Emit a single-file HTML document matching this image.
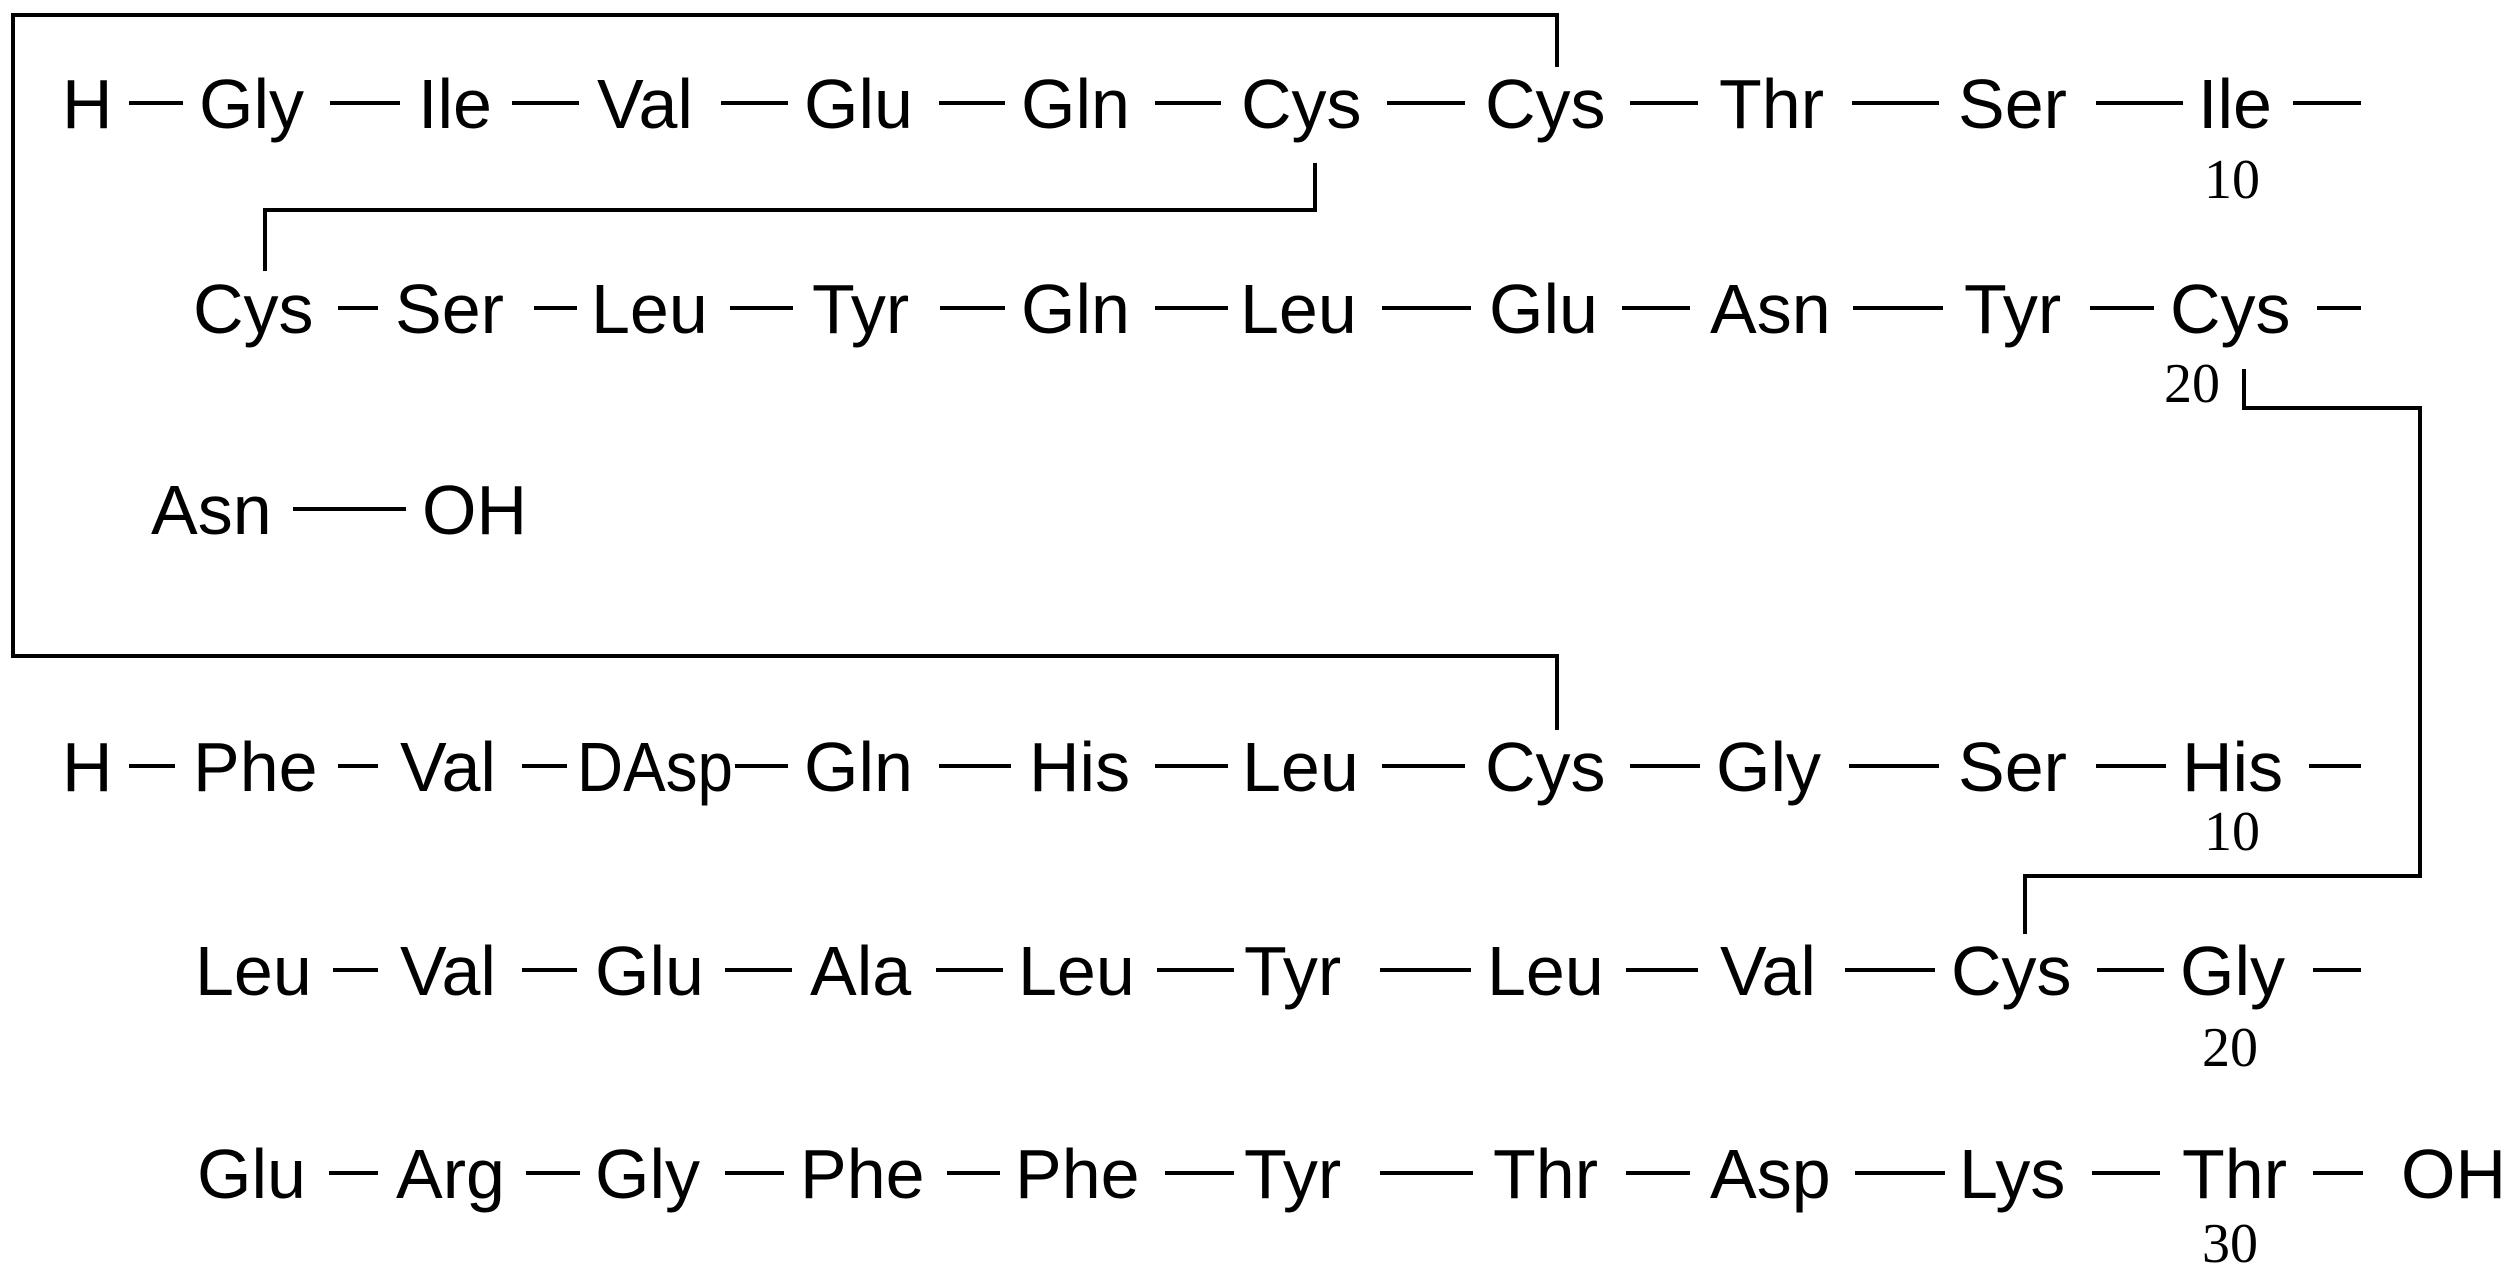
<!DOCTYPE html>
<html><head><meta charset="utf-8"><style>
html,body{margin:0;padding:0;background:#fff;}
svg{display:block;}
text{font-family:"Liberation Sans",Arial,sans-serif;font-size:70px;fill:#000;}
text.n{font-family:"Liberation Serif","Times New Roman",serif;font-size:56px;}
line,polyline{stroke:#000;stroke-width:4;fill:none;}
</style></head><body>
<svg width="2520" height="1279" viewBox="0 0 2520 1279" xmlns="http://www.w3.org/2000/svg">
<!-- brackets -->
<polyline points="13,15 1557,15 1557,67"/>
<polyline points="13,13 13,656 1557,656 1557,730"/>
<polyline points="1315,163 1315,210 265,210 265,271"/>
<polyline points="2244,369 2244,408 2420,408 2420,876 2025,876 2025,934"/>

<!-- Row 1 baseline 128 -->
<g>
<text x="62" y="128">H</text>
<text x="199" y="128">Gly</text>
<text x="418" y="128">Ile</text>
<text x="597" y="128">Val</text>
<text x="804" y="128">Glu</text>
<text x="1021" y="128">Gln</text>
<text x="1241" y="128">Cys</text>
<text x="1485" y="128">Cys</text>
<text x="1719" y="128">Thr</text>
<text x="1958" y="128">Ser</text>
<text x="2198" y="128">Ile</text>
<line x1="129" y1="103" x2="183" y2="103"/>
<line x1="330" y1="103" x2="400" y2="103"/>
<line x1="512" y1="103" x2="579" y2="103"/>
<line x1="721" y1="103" x2="788" y2="103"/>
<line x1="939" y1="103" x2="1005" y2="103"/>
<line x1="1155" y1="103" x2="1221" y2="103"/>
<line x1="1387" y1="103" x2="1465" y2="103"/>
<line x1="1630" y1="103" x2="1698" y2="103"/>
<line x1="1852" y1="103" x2="1939" y2="103"/>
<line x1="2096" y1="103" x2="2183" y2="103"/>
<line x1="2293" y1="103" x2="2361" y2="103"/>
<text class="n" x="2204" y="198">10</text>
</g>

<!-- Row 2 baseline 333 -->
<g>
<text x="193" y="333">Cys</text>
<text x="395" y="333">Ser</text>
<text x="591" y="333">Leu</text>
<text x="812" y="333">Tyr</text>
<text x="1021" y="333">Gln</text>
<text x="1240" y="333">Leu</text>
<text x="1489" y="333">Glu</text>
<text x="1710" y="333">Asn</text>
<text x="1964" y="333">Tyr</text>
<text x="2170" y="333">Cys</text>
<line x1="338" y1="308" x2="378" y2="308"/>
<line x1="534" y1="308" x2="577" y2="308"/>
<line x1="730" y1="308" x2="793" y2="308"/>
<line x1="940" y1="308" x2="1005" y2="308"/>
<line x1="1155" y1="308" x2="1228" y2="308"/>
<line x1="1382" y1="308" x2="1471" y2="308"/>
<line x1="1622" y1="308" x2="1690" y2="308"/>
<line x1="1853" y1="308" x2="1943" y2="308"/>
<line x1="2090" y1="308" x2="2154" y2="308"/>
<line x1="2317" y1="308" x2="2361" y2="308"/>
<text class="n" x="2164" y="402">20</text>
</g>

<!-- Row 3 -->
<text x="151" y="534">Asn</text>
<line x1="293" y1="509" x2="406" y2="509"/>
<text x="422" y="534">OH</text>

<!-- Row 4 baseline 791 -->
<g>
<text x="62" y="791">H</text>
<text x="193" y="791">Phe</text>
<text x="400" y="791">Val</text>
<text x="577" y="791" textLength="156" lengthAdjust="spacingAndGlyphs">DAsp</text>
<text x="804" y="791">Gln</text>
<text x="1029" y="791">His</text>
<text x="1242" y="791">Leu</text>
<text x="1485" y="791">Cys</text>
<text x="1716" y="791">Gly</text>
<text x="1958" y="791">Ser</text>
<text x="2182" y="791">His</text>
<line x1="129" y1="766" x2="175" y2="766"/>
<line x1="338" y1="766" x2="378" y2="766"/>
<line x1="522" y1="766" x2="567" y2="766"/>
<line x1="735" y1="766" x2="788" y2="766"/>
<line x1="939" y1="766" x2="1011" y2="766"/>
<line x1="1155" y1="766" x2="1228" y2="766"/>
<line x1="1382" y1="766" x2="1465" y2="766"/>
<line x1="1630" y1="766" x2="1700" y2="766"/>
<line x1="1849" y1="766" x2="1939" y2="766"/>
<line x1="2096" y1="766" x2="2166" y2="766"/>
<line x1="2309" y1="766" x2="2361" y2="766"/>
<text class="n" x="2204" y="850">10</text>
</g>

<!-- Row 5 baseline 995 -->
<g>
<text x="195" y="995">Leu</text>
<text x="400" y="995">Val</text>
<text x="595" y="995">Glu</text>
<text x="810" y="995">Ala</text>
<text x="1018" y="995">Leu</text>
<text x="1244" y="995">Tyr</text>
<text x="1487" y="995">Leu</text>
<text x="1720" y="995">Val</text>
<text x="1951" y="995">Cys</text>
<text x="2180" y="995">Gly</text>
<line x1="333" y1="970" x2="378" y2="970"/>
<line x1="522" y1="970" x2="577" y2="970"/>
<line x1="725" y1="970" x2="792" y2="970"/>
<line x1="936" y1="970" x2="1003" y2="970"/>
<line x1="1157" y1="970" x2="1234" y2="970"/>
<line x1="1380" y1="970" x2="1471" y2="970"/>
<line x1="1626" y1="970" x2="1698" y2="970"/>
<line x1="1845" y1="970" x2="1935" y2="970"/>
<line x1="2097" y1="970" x2="2164" y2="970"/>
<line x1="2313" y1="970" x2="2361" y2="970"/>
<text class="n" x="2202" y="1066">20</text>
</g>

<!-- Row 6 baseline 1198 -->
<g>
<text x="197" y="1198">Glu</text>
<text x="396" y="1198">Arg</text>
<text x="595" y="1198">Gly</text>
<text x="800" y="1198">Phe</text>
<text x="1015" y="1198">Phe</text>
<text x="1244" y="1198">Tyr</text>
<text x="1493" y="1198">Thr</text>
<text x="1710" y="1198">Asp</text>
<text x="1959" y="1198">Lys</text>
<text x="2182" y="1198">Thr</text>
<text x="2401" y="1198">OH</text>
<line x1="329" y1="1173" x2="378" y2="1173"/>
<line x1="526" y1="1173" x2="580" y2="1173"/>
<line x1="725" y1="1173" x2="784" y2="1173"/>
<line x1="947" y1="1173" x2="1000" y2="1173"/>
<line x1="1165" y1="1173" x2="1234" y2="1173"/>
<line x1="1380" y1="1173" x2="1473" y2="1173"/>
<line x1="1626" y1="1173" x2="1690" y2="1173"/>
<line x1="1855" y1="1173" x2="1945" y2="1173"/>
<line x1="2092" y1="1173" x2="2160" y2="1173"/>
<line x1="2313" y1="1173" x2="2363" y2="1173"/>
<text class="n" x="2202" y="1262">30</text>
</g>
</svg>
</body></html>
